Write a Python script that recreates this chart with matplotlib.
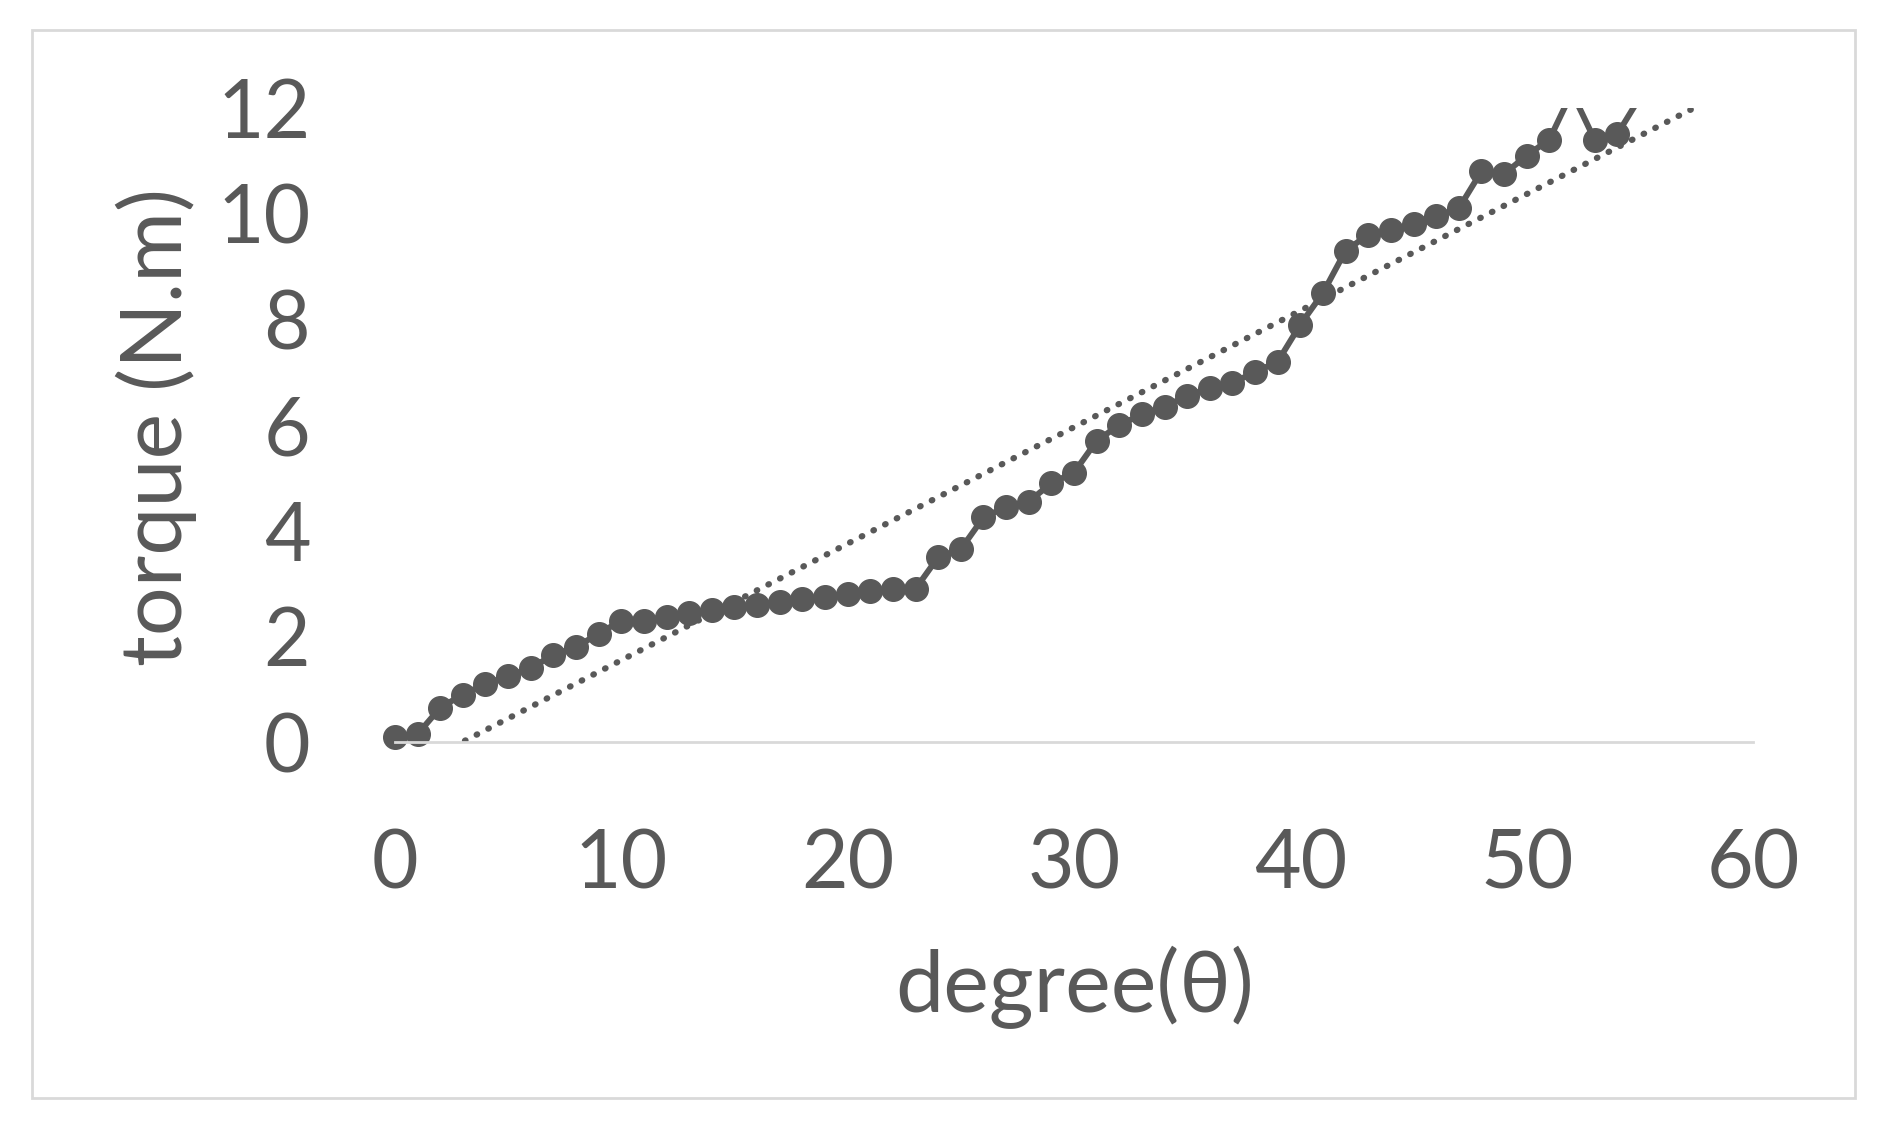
import matplotlib
matplotlib.use("Agg")
import matplotlib.pyplot as plt
import numpy as np
from matplotlib.patches import Rectangle

# torque readings, one per degree
degree = np.arange(0, 56)
torque = [0.10, 0.15, 0.65, 0.90, 1.10, 1.25, 1.40, 1.65, 1.80, 2.05,
          2.30, 2.30, 2.37, 2.45, 2.50, 2.55, 2.60, 2.65, 2.70, 2.75,
          2.80, 2.85, 2.90, 2.90, 3.50, 3.65, 4.25, 4.45, 4.55, 4.90,
          5.10, 5.70, 6.00, 6.20, 6.35, 6.55, 6.70, 6.80, 7.00, 7.20,
          7.90, 8.50, 9.30, 9.60, 9.70, 9.80, 9.95, 10.10, 10.80, 10.75,
          11.10, 11.40, 12.30, 11.40, 11.50, 12.20]
torque = np.array(torque)

x_ticks = [0, 10, 20, 30, 40, 50, 60]
y_ticks = [0, 2, 4, 6, 8, 10, 12]

col = '#595959'
plt.rcParams['font.family'] = ['Lato', 'DejaVu Sans']

fig = plt.figure(figsize=(18.87, 11.39), dpi=100)
fig.patches.append(Rectangle((0.017, 0.036), 0.966, 0.938, transform=fig.transFigure,
                             fill=False, edgecolor='#d9d9d9', linewidth=2))

ax = fig.add_axes([0.2093, 0.3485, 0.7197, 0.5567])

# linear trendline (Excel style)
k, b = np.polyfit(degree, torque, 1)
xt = np.array([0, 60])
ax.plot(xt, k * xt + b, linestyle=(0, (0.1, 2.0)), color=col, linewidth=4.5,
        dash_capstyle='round')

ax.plot(degree, torque, color=col, linewidth=4.3)
inside = torque <= 12
ax.plot(degree[inside], torque[inside], 'o', color=col, markersize=17,
        clip_on=False)

ax.set_xlim(0, 60)
ax.set_ylim(0, 12)
ax.set_xticks(x_ticks)
ax.set_yticks(y_ticks)
for s in ['top', 'right', 'left']:
    ax.spines[s].set_visible(False)
ax.spines['bottom'].set_color('#d9d9d9')
ax.spines['bottom'].set_linewidth(2)
ax.tick_params(length=0, labelsize=58, labelcolor=col)
ax.tick_params(axis='x', pad=62)
ax.tick_params(axis='y', pad=61)

fig.text(0.5697, 0.133, 'degree(θ)', fontsize=62, color=col, ha='center', va='center')
fig.text(0.0827, 0.625, 'torque (N.m)', fontsize=62, color=col, ha='center', va='center',
         rotation=90)

fig.savefig('out.png', dpi=100)
